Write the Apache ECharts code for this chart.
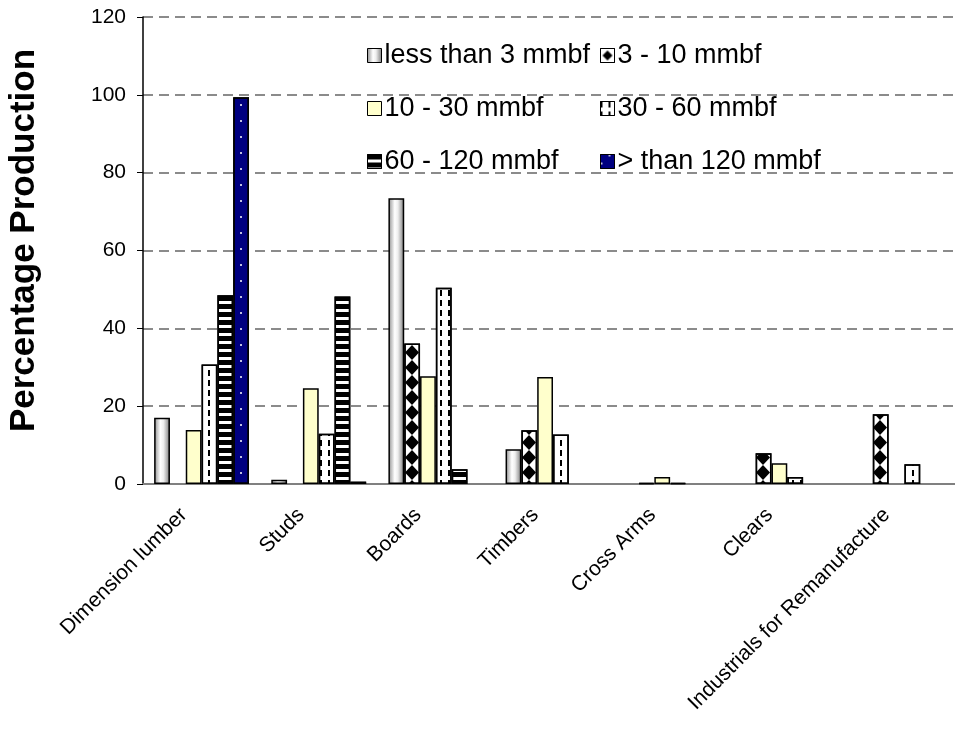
<!DOCTYPE html>
<html>
<head>
	<meta charset="utf-8"/>
	<title>Percentage Production</title>
	<style>
		* {
			margin: 0;
			padding: 0;
		}
		body {
			background: #fff;
		}
	</style>
</head>
<body>

	<div style="width: 955px;height:742px;" id="myChart"></div>

	<script src="https://cdn.jsdelivr.net/npm/echarts@6/dist/echarts.min.js"></script>
	<script>
		var categories = ['Dimension lumber', 'Studs', 'Boards', 'Timbers', 'Cross Arms', 'Clears', 'Industrials for Remanufacture'];
		var seriesNames = ['less than 3 mmbf', '3 - 10 mmbf', '10 - 30 mmbf', '30 - 60 mmbf', '60 - 120 mmbf', '> than 120 mmbf'];
		var lessThan3 = [17.0, 1.1, 73.4, 8.9, '-', '-', '-'];
		var from3to10 = ['-', '-', 36.1, 13.8, 0.3, 7.9, 17.9];
		var from10to30 = [13.9, 24.6, 27.7, 27.5, 1.8, 5.3, '-'];
		var from30to60 = [30.7, 12.9, 50.4, 12.7, 0.3, 1.8, 5.1];
		var from60to120 = [48.5, 48.2, 3.8, '-', '-', '-', '-'];
		var over120 = [99.4, 0.6, '-', '-', '-', '-', '-'];
		var yTicks = [0, 20, 40, 60, 80, 100, 120];

		var font = 'Arial, "Liberation Sans", sans-serif';
		var myChart = echarts.init(document.getElementById('myChart'));

		// each bar has a thin black outline, the fill/pattern differs
		var styles = [
			{
				color: new echarts.graphic.LinearGradient(0, 0, 1, 0, [
					{offset: 0, color: '#8c8c8c'},
					{offset: 0.4, color: '#ffffff'},
					{offset: 0.6, color: '#eeeeee'},
					{offset: 1, color: '#7a7a7a'}
				])
			},
			{
				// one column of diamonds per category (tile is one category wide)
				color: '#ffffff',
				decal: {symbol: 'diamond', symbolSize: 1, color: '#000', dashArrayX: [[0, 54, 14, 49]], dashArrayY: [15, 0]}
			},
			{
				color: '#ffffcc'
			},
			{
				color: '#ffffff',
				decal: {symbol: 'rect', symbolSize: 1, color: '#000', dashArrayX: [2, 6], dashArrayY: [6, 4]}
			},
			{
				color: '#ffffff',
				decal: {symbol: 'rect', symbolSize: 1, color: '#000', dashArrayX: [[8, 0]], dashArrayY: [5, 3]}
			},
			{
				color: '#000080',
				decal: {symbol: 'circle', symbolSize: 1, color: '#ffffff', dashArrayX: [[2, 14], [0, 8, 2, 6]], dashArrayY: [2, 6]}
			}
		];
		var dataSets = [lessThan3, from3to10, from10to30, from30to60, from60to120, over120];

		var series = [];
		for (var i = 0; i < dataSets.length; i++) {
			var st = styles[i];
			series.push({
				name: seriesNames[i],
				type: 'bar',
				barGap: '0%',
				barCategoryGap: '19%',
				data: dataSets[i],
				itemStyle: {
					color: st.color,
					decal: st.decal,
					borderColor: '#000',
					borderWidth: 1.5
				}
			});
		}

		var legendBase = {
			orient: 'vertical',
			top: 42,
			padding: 0,
			itemWidth: 14,
			itemHeight: 14,
			itemGap: 26,
			icon: 'rect',
			selectedMode: false,
			itemStyle: {borderColor: '#000', borderWidth: 1},
			textStyle: {fontSize: 27, lineHeight: 27, color: '#000', fontFamily: font, padding: [0, 0, 0, -2]}
		};

		// legend swatch for 3 - 10 gets its own diamond, in the icon's local coords
		var diamondIcon = {
			name: seriesNames[1],
			itemStyle: {
				decal: {symbol: 'diamond', symbolSize: 1, color: '#000', dashArrayX: [[0, 2, 10, 2]], dashArrayY: [0, 2, 10, 2]}
			}
		};

		var option = {
			animation: false,
			legend: [
				Object.assign({}, legendBase, {left: 367, data: [seriesNames[0], seriesNames[2], seriesNames[4]]}),
				Object.assign({}, legendBase, {left: 600, data: [diamondIcon, seriesNames[3], seriesNames[5]]})
			],
			grid: {
				left: 143,
				top: 17,
				right: -8,
				bottom: 258,
				outerBoundsMode: 'none'
			},
			xAxis: {
				type: 'category',
				data: categories,
				axisLine: {
					lineStyle: {color: '#808080', width: 2}
				},
				axisTick: {
					length: 6,
					lineStyle: {color: '#000'}
				},
				axisLabel: {
					rotate: 45,
					interval: 0,
					margin: 10,
					padding: [34, 25, 0, 0],
					color: '#000',
					fontSize: 21,
					fontFamily: font
				}
			},
			yAxis: {
				type: 'value',
				min: yTicks[0],
				max: yTicks[yTicks.length - 1],
				interval: 20,
				name: 'Percentage Production',
				nameLocation: 'middle',
				nameGap: 101,
				nameTextStyle: {
					fontSize: 35,
					fontWeight: 'bold',
					color: '#000',
					fontFamily: font,
					padding: [0, 0, 0, 20]
				},
				axisLine: {
					show: true,
					lineStyle: {color: '#000', width: 1.5}
				},
				axisTick: {
					show: true,
					length: 6,
					lineStyle: {color: '#000'}
				},
				axisLabel: {
					margin: 17,
					color: '#000',
					fontSize: 21,
					fontFamily: font
				},
				splitLine: {
					lineStyle: {color: '#666', type: [10, 6], width: 1.5}
				}
			},
			series: series
		};

		myChart.setOption(option);
	</script>
</body>
</html>
